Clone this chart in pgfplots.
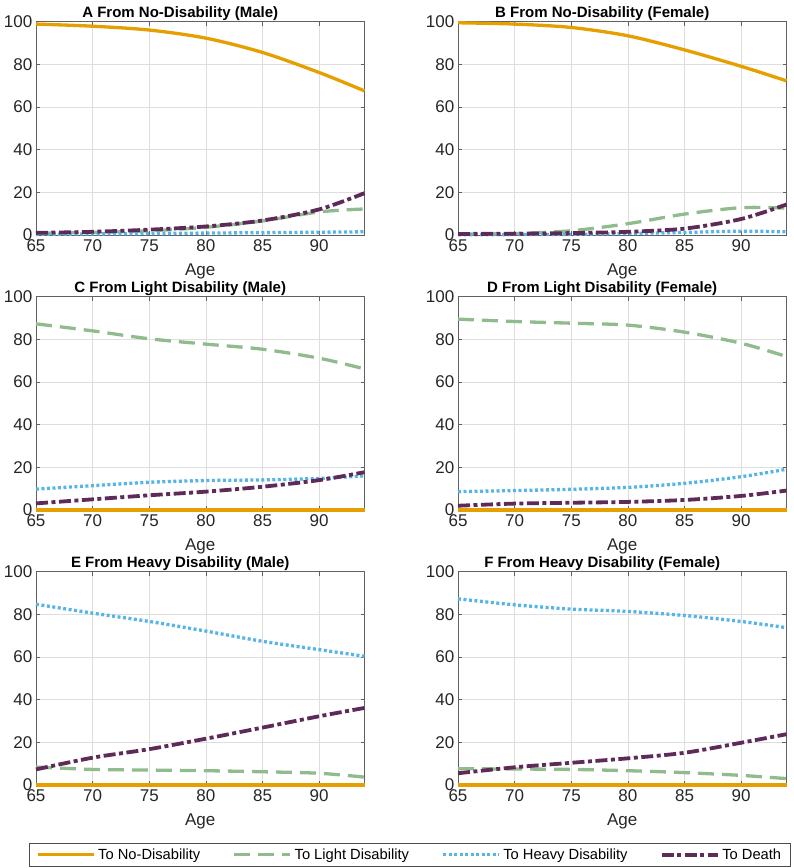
\documentclass[border=0pt]{standalone}
\usepackage{fontspec}
\setmainfont{Liberation Sans}
\usepackage{pgfplots}
\usepackage{pgfplotstable}
\pgfplotsset{compat=1.18}

\definecolor{cNo}{HTML}{E69F00}
\definecolor{cLight}{HTML}{90BB8C}
\definecolor{cHeavy}{HTML}{56B4E9}
\definecolor{cDeath}{HTML}{5E2A57}

% Transition probabilities (%) by age, one table per panel
\pgfplotstableread{
age nodis light heavy death
65  98.8  0.8   0.3   1.0
70  97.8  1.2   0.5   1.5
75  96.0  2.0   0.7   2.5
80  92.2  3.6   0.9   4.0
85  85.5  6.6   1.1   6.8
90  76.1  10.8  1.3   12.0
94  67.5  12.2  1.5   19.6
}\tabA
\pgfplotstableread{
age nodis light heavy death
65  99.4  0.4   0.1   0.5
70  98.8  0.7   0.2   0.6
75  97.2  2.0   0.3   0.9
80  93.3  5.3   0.7   1.5
85  86.7  9.8   1.2   3.0
90  79.0  12.8  1.8   7.5
94  72.2  12.6  1.5   14.3
}\tabB
\pgfplotstableread{
age nodis light heavy death
65  0     87.2  9.8   3.1
70  0     83.9  11.4  5.0
75  0     80.2  13.0  6.9
80  0     77.7  13.8  8.6
85  0     75.3  14.1  10.9
90  0     71.1  14.8  14.0
94  0     66.1  16.0  17.7
}\tabC
\pgfplotstableread{
age nodis light heavy death
65  0     89.4  8.6   2.0
70  0     88.3  9.1   3.0
75  0     87.5  9.7   3.4
80  0     86.6  10.6  3.8
85  0     83.3  12.5  4.7
90  0     78.1  15.6  6.6
94  0     71.9  19.1  9.1
}\tabD
\pgfplotstableread{
age nodis light heavy death
65  0     8.4   84.7  7.3
70  0     7.3   80.5  12.8
75  0     7.0   76.6  16.8
80  0     6.7   72.1  21.7
85  0     6.2   67.3  26.9
90  0     5.5   63.4  32.2
94  0     3.7   60.3  36.1
}\tabE
\pgfplotstableread{
age nodis light heavy death
65  0     7.6   87.2  5.5
70  0     7.5   84.4  8.3
75  0     7.3   82.4  10.4
80  0     6.7   81.3  12.5
85  0     5.8   79.4  15.1
90  0     4.5   76.6  19.8
94  0     3.0   73.7  23.8
}\tabF

\pgfplotsset{
  panel/.style={
    scale only axis, width=328.5pt, height=213.5pt,
    xmin=65, xmax=94, ymin=0, ymax=100,
    xtick={65,70,...,90}, ytick={0,20,...,100},
    grid=major, grid style={color=black!13, line width=0.6pt},
    axis line style={color=black!62, line width=0.7pt},
    tick style={color=black!62, line width=0.7pt},
    tick align=inside, major tick length=4pt,
    /pgf/number format/assume math mode=true,
    ticklabel style={font=\fontsize{17}{17}\selectfont, color=black!85},
    yticklabel style={inner sep=3.5pt},
    xticklabel style={inner sep=4.5pt},
    xlabel={Age},
    every axis x label/.style={at={(axis description cs:0.5,0)}, anchor=base,
      yshift=-40pt, font=\fontsize{17}{17}\selectfont, color=black!85},
    every axis title/.style={at={(axis description cs:0.439,1)}, anchor=base,
      yshift=4pt, font=\bfseries\fontsize{15}{15}\selectfont},
    clip=false,
  },
  sNo/.style={color=cNo, line width=3.3pt, line cap=butt},
  sLight/.style={color=cLight, line width=3.3pt, line cap=butt, dash pattern=on 16pt off 8pt},
  sHeavy/.style={color=cHeavy, line width=3.3pt, line cap=butt, dash pattern=on 3pt off 2.5pt},
  sDeath/.style={color=cDeath, line width=3.8pt, line cap=butt, dash pattern=on 12pt off 3.5pt on 4pt off 3.5pt},
}

\newcommand{\panelplots}[1]{%
  \addplot[sNo, smooth] table[x=age, y=nodis] {#1};
  \addplot[sLight, smooth] table[x=age, y=light] {#1};
  \addplot[sHeavy, smooth] table[x=age, y=heavy] {#1};
  \addplot[sDeath, smooth] table[x=age, y=death] {#1};
}

\begin{document}
\begin{tikzpicture}
\path[use as bounding box] (0pt,0pt) rectangle (794pt,-868pt);

\begin{axis}[panel, at={(36pt,-235pt)}, anchor=south west, title={A From No-Disability (Male)}]
\panelplots{\tabA}
\end{axis}

\begin{axis}[panel, at={(458pt,-235pt)}, anchor=south west, title={B From No-Disability (Female)}]
\panelplots{\tabB}
\end{axis}

\begin{axis}[panel, at={(36pt,-510pt)}, anchor=south west, title={C From Light Disability (Male)}]
\panelplots{\tabC}
\end{axis}

\begin{axis}[panel, at={(458pt,-510pt)}, anchor=south west, title={D From Light Disability (Female)}]
\panelplots{\tabD}
\end{axis}

\begin{axis}[panel, at={(36pt,-785pt)}, anchor=south west, title={E From Heavy Disability (Male)}]
\panelplots{\tabE}
\end{axis}

\begin{axis}[panel, at={(458pt,-785pt)}, anchor=south west, title={F From Heavy Disability (Female)},
  legend columns=4,
  legend image code/.code={\draw[#1] (0pt,0pt) -- (56pt,0pt);},
  legend style={at={(axis description cs:-0.146,-0.327)}, anchor=center,
    draw=black!70, line width=0.7pt, inner xsep=7pt, inner ysep=3pt,
    font=\fontsize{14.7}{14.7}\selectfont,
    nodes={inner sep=2.5pt},
    /tikz/every even column/.append style={column sep=30pt}},
]
\panelplots{\tabF}
\legend{To No-Disability, To Light Disability, To Heavy Disability, To Death}
\end{axis}
\end{tikzpicture}
\end{document}
